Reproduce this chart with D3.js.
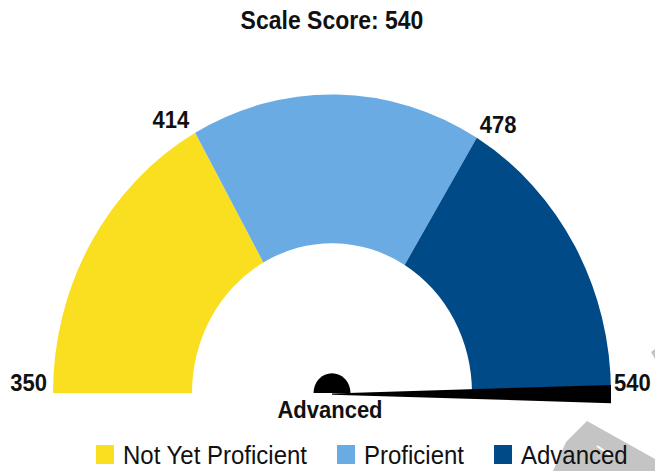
<!DOCTYPE html>
<html>
<head>
<meta charset="utf-8">
<script src="https://cdn.jsdelivr.net/npm/d3@7"></script>
<style>
  body { margin: 0; background: #fff; }
  text { font-family: "Liberation Sans", Arial, sans-serif; }
</style>
</head>
<body>
<script>
// gauge data
const bandNames = ["Not Yet Proficient", "Proficient", "Advanced"];
const bandCutoffs = [350, 414, 478, 540];
const bandColors = ["#fadf20", "#6aabe3", "#004a88"];
const score = 540;
const scoreLevel = "Advanced";

// width and height
const w = 655;
const h = 471;
const cx = 332;
const cy = 393;
const outerR = 279;
const innerR = 140;
const stretch = 1.07; // gauge is a little taller than wide
const textStretch = 1.12; // labels look a bit tall too

const svg = d3
  .select("body")
  .append("svg")
  .attr("width", w)
  .attr("height", h);

// faint watermark fragment in the corner
svg
  .append("polygon")
  .attr("points", "587,421 655,459 655,471 553,471 566,442")
  .attr("fill", "#c4c4c4");
svg
  .append("line")
  .attr("x1", 597)
  .attr("y1", 446)
  .attr("x2", 612)
  .attr("y2", 456)
  .attr("stroke", "#fff")
  .attr("stroke-width", 2);
svg
  .append("polygon")
  .attr("points", "651,352 655,349 655,359")
  .attr("fill", "#c4c4c4");

// title
svg
  .append("text")
  .attr("transform", `translate(${cx},29) scale(1,${textStretch})`)
  .attr("text-anchor", "middle")
  .attr("font-size", 23)
  .attr("font-weight", "bold")
  .attr("fill", "#111")
  .text("Scale Score: " + score);

// angle scale, d3.arc convention (0 = 12 o'clock)
const angle = d3
  .scaleLinear()
  .domain([bandCutoffs[0], bandCutoffs[bandCutoffs.length - 1]])
  .range([-Math.PI / 2, Math.PI / 2]);

const bands = bandNames.map((name, i) => ({
  name,
  from: bandCutoffs[i],
  to: bandCutoffs[i + 1],
  color: bandColors[i],
}));

const gauge = svg
  .append("g")
  .attr("transform", `translate(${cx},${cy}) scale(1,${stretch})`);

const arc = d3
  .arc()
  .innerRadius(innerR)
  .outerRadius(outerR)
  .startAngle((d) => angle(d.from))
  .endAngle((d) => angle(d.to));

gauge
  .selectAll("path.band")
  .data(bands)
  .enter()
  .append("path")
  .attr("class", "band")
  .attr("d", arc)
  .attr("fill", (d) => d.color);

// needle: thin at the hub, wide at the tip
const a = angle(score);
const tipHalf = 8.5;
const needlePts = [
  [0, -0.6],
  [outerR, -tipHalf],
  [outerR, tipHalf],
  [0, 0.6],
];
gauge
  .append("polygon")
  .attr("points", needlePts.map((p) => p.join(",")).join(" "))
  .attr("transform", `translate(0,1) rotate(${(a * 180) / Math.PI - 90})`)
  .attr("fill", "#000");

// hub (upper half disc)
gauge
  .append("path")
  .attr(
    "d",
    d3.arc()({
      innerRadius: 0,
      outerRadius: 18.5,
      startAngle: -Math.PI / 2,
      endAngle: Math.PI / 2,
    })
  )
  .attr("fill", "#000");

// cutoff labels, placed just outside the outer edge
svg
  .selectAll("text.cut")
  .data(bandCutoffs)
  .enter()
  .append("text")
  .attr("class", "cut")
  .attr("transform", (d) => {
    const t = angle(d);
    let x = cx + outerR * Math.sin(t);
    let y = cy - outerR * stretch * Math.cos(t);
    x = x < cx ? x - 6 : x + 3;
    y = Math.abs(Math.sin(t)) > 0.99 ? y - 2 : y - 5;
    return `translate(${x},${y}) scale(1,${textStretch})`;
  })
  .attr("text-anchor", (d) => (angle(d) < 0 ? "end" : "start"))
  .attr("font-size", 22)
  .attr("font-weight", "bold")
  .attr("fill", "#111")
  .text((d) => d);

// level label under the hub
svg
  .append("text")
  .attr("transform", `translate(${cx - 2},418) scale(1,${textStretch})`)
  .attr("text-anchor", "middle")
  .attr("font-size", 22)
  .attr("font-weight", "bold")
  .attr("fill", "#111")
  .text(scoreLevel);

// legend
const legend = svg.append("g").attr("transform", "translate(96,445)");
let lx = 0;
bands.forEach((d) => {
  const item = legend.append("g").attr("transform", `translate(${lx},0)`);
  item
    .append("rect")
    .attr("width", 18)
    .attr("height", 19)
    .attr("fill", d.color);
  const t = item
    .append("text")
    .attr("transform", `translate(27,19) scale(1,1.05)`)
    .attr("font-size", 24)
    .attr("fill", "#111")
    .text(d.name);
  lx += 27 + t.node().getComputedTextLength() + 30;
});
</script>
</body>
</html>
